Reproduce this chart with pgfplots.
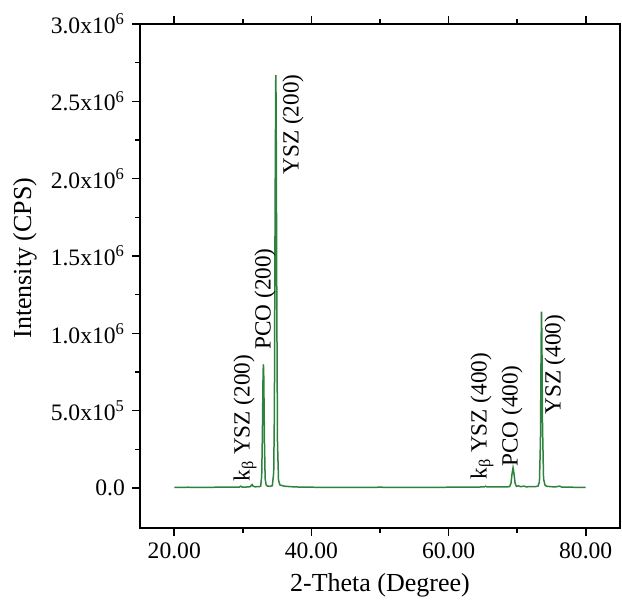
\documentclass[border=0pt]{standalone}
\usepackage{pgfplots}
\pgfplotsset{compat=1.18}
\usepackage{fontspec}
\setmainfont{Liberation Serif}
\definecolor{xrdgreen}{RGB}{45,130,62}

\begin{document}
\begin{tikzpicture}
\begin{axis}[
  scale only axis,
  width=240pt, height=252pt,
  xmin=15, xmax=85,
  ymin=-0.2586e6, ymax=3.0e6,
  xtick={20,40,60,80},
  minor x tick num=1,
  ytick={0,0.5e6,1.0e6,1.5e6,2.0e6,2.5e6,3.0e6},
  yticklabels={0.0,{5.0x10\textsuperscript{5}},{1.0x10\textsuperscript{6}},{1.5x10\textsuperscript{6}},{2.0x10\textsuperscript{6}},{2.5x10\textsuperscript{6}},{3.0x10\textsuperscript{6}}},
  minor y tick num=1,
  scaled ticks=false,
  tick align=outside,
  xtick pos=both,
  ytick pos=left,
  major tick length=4pt,
  minor tick length=2.5pt,
  axis line style={line width=0.9pt},
  every tick/.style={black, line width=0.8pt},
  xticklabel style={/pgf/number format/.cd, fixed, fixed zerofill, precision=2, assume math mode=true},
  ticklabel style={font=\fontsize{11.8}{13}\selectfont},
  xlabel={2-Theta (Degree)},
  ylabel={Intensity (CPS)},
  every axis x label/.style={at={([yshift=-28.5pt]axis description cs:0.5,0)}, anchor=center, font=\fontsize{13}{15}\selectfont},
  every axis y label/.style={at={([xshift=-57.5pt,yshift=9pt]axis description cs:0,0.5)}, anchor=center, rotate=90, font=\fontsize{13}{15}\selectfont},
  clip=false,
]
\addplot[xrdgreen, line width=0.75pt] coordinates {
(20,4000) (22,5000) (24,4500) (26,5000) (28,5500) (29.5,6000) (29.7,12000) (29.9,6000)
(31.0,7000) (31.2,15000) (31.35,22000) (31.5,12000) (31.8,8000) (32.4,9000)
(32.6,12000) (32.75,80000) (32.85,350000) (32.95,750000) (33.0,800000) (33.05,720000)
(33.15,300000) (33.25,60000) (33.4,20000) (33.6,12000) (34.0,11000) (34.3,15000)
(34.5,100000) (34.6,500000) (34.7,1800000) (34.8,2670000) (34.85,2500000) (34.95,1200000)
(35.05,300000) (35.2,50000) (35.4,20000) (36.0,12000) (37.5,7000) (40,5000)
(45,4500) (50,5000) (55,4500) (60,5000) (63,5500) (65.2,7000) (65.4,12000) (65.6,7000)
(68.5,7500) (68.9,9000) (69.1,30000) (69.25,90000) (69.4,130000) (69.55,90000) (69.7,30000)
(69.9,11000) (70.2,14000) (70.5,9000) (71.0,12000) (71.3,8000) (72.6,9000)
(73.05,12000) (73.25,40000) (73.4,300000) (73.5,950000) (73.55,1140000) (73.6,1000000)
(73.7,400000) (73.85,60000) (74.05,20000) (74.3,11000) (75.5,7000) (76.2,12000) (76.5,6000)
(78,5000) (80,4500)
};
\node[rotate=90, anchor=west, inner sep=0pt, font=\fontsize{11.6}{13}\selectfont] at (axis cs:30.31,0.039e6) {k\textsubscript{β} YSZ (200)};
\node[rotate=90, anchor=west, inner sep=0pt, font=\fontsize{11.6}{13}\selectfont] at (axis cs:33.23,0.893e6) {PCO (200)};
\node[rotate=90, anchor=west, inner sep=0pt, font=\fontsize{11.6}{13}\selectfont] at (axis cs:37.31,2.025e6) {YSZ (200)};
\node[rotate=90, anchor=west, inner sep=0pt, font=\fontsize{11.6}{13}\selectfont] at (axis cs:64.88,0.052e6) {k\textsubscript{β} YSZ (400)};
\node[rotate=90, anchor=west, inner sep=0pt, font=\fontsize{11.6}{13}\selectfont] at (axis cs:69.25,0.136e6) {PCO (400)};
\node[rotate=90, anchor=west, inner sep=0pt, font=\fontsize{11.6}{13}\selectfont] at (axis cs:75.52,0.472e6) {YSZ (400)};
\end{axis}
\pgfresetboundingbox
\path ([xshift=-70pt,yshift=-39pt]current axis.south west) rectangle ([xshift=1pt,yshift=12pt]current axis.north east);
\end{tikzpicture}
\end{document}
